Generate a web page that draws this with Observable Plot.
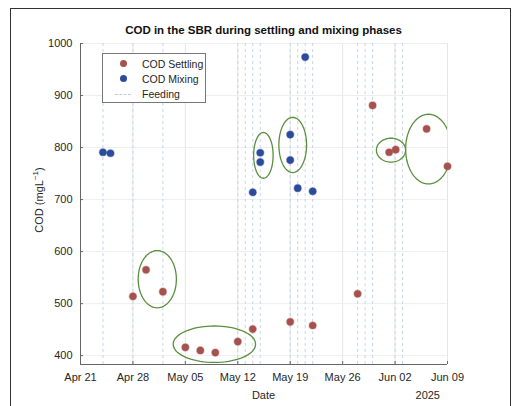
<!DOCTYPE html>
<html>
<head>
<meta charset="utf-8">
<script src="https://cdn.jsdelivr.net/npm/d3@7"></script>
<script src="https://cdn.jsdelivr.net/npm/@observablehq/plot@0.6"></script>
<style>
  html, body { margin: 0; padding: 0; background: #fff; }
  body { width: 514px; height: 406px; position: relative; overflow: hidden; font-family: "Liberation Sans", Arial, sans-serif; }
  #frame { position: absolute; left: 10px; top: 8px; width: 501px; height: 420px; border: 1.5px solid #333; box-sizing: border-box; }
  #chart { position: absolute; left: 0; top: 0; }
  #title { position: absolute; top: 24px; left: 80px; width: 367px; text-align: center; font-weight: bold; font-size: 11.5px; color: #111; }
  #ylabel { position: absolute; left: 38px; top: 200px; transform: translate(-50%, -50%) rotate(-90deg); font-size: 11px; color: #262626; white-space: nowrap; }
  #xlabel { position: absolute; top: 389px; left: 80px; width: 367px; text-align: center; font-size: 11px; color: #262626; }
  #year { position: absolute; top: 389px; left: 400px; width: 40px; text-align: right; font-size: 11px; color: #262626; }
  #legend { position: absolute; left: 102px; top: 53px; width: 104px; height: 50px; background: #fff; border: 1px solid #777; box-sizing: border-box; font-size: 10.5px; color: #262626; }
  .li { position: absolute; left: 0; height: 14px; line-height: 14px; }
  .li .sym { position: absolute; left: 17px; top: 3px; width: 7px; height: 7px; border-radius: 50%; }
  .li .txt { position: absolute; left: 39px; top: 0; white-space: nowrap; }
  .li .dash { position: absolute; left: 12px; top: 7px; width: 16px; border-top: 1px dashed #b9d0e8; }
</style>
</head>
<body>
<div id="frame"></div>
<div id="chart"></div>
<div id="title">COD in the SBR during settling and mixing phases</div>
<div id="ylabel">COD (mgL<sup style="font-size:8px">−1</sup>)</div>
<div id="xlabel">Date</div>
<div id="year">2025</div>
<div id="legend">
  <div class="li" style="top:3px"><span class="sym" style="background:#a5524e"></span><span class="txt">COD Settling</span></div>
  <div class="li" style="top:18px"><span class="sym" style="background:#2b4b9b"></span><span class="txt">COD Mixing</span></div>
  <div class="li" style="top:33px"><span class="dash"></span><span class="txt">Feeding</span></div>
</div>
<script>
// ---- data ----
const settlingDates = ["2025-04-28", "2025-04-29T18:00", "2025-05-02", "2025-05-05", "2025-05-07", "2025-05-09",
  "2025-05-12", "2025-05-14", "2025-05-19", "2025-05-22", "2025-05-28", "2025-05-30",
  "2025-06-01T05:00", "2025-06-02T02:00", "2025-06-06T05:00", "2025-06-09"];
const settlingCOD = [514, 565, 523, 416, 410, 406, 427, 451, 465, 458, 519, 881, 791, 796, 836, 764];

const mixingDates = ["2025-04-24", "2025-04-25", "2025-05-14", "2025-05-15", "2025-05-15", "2025-05-19",
  "2025-05-19", "2025-05-20", "2025-05-21", "2025-05-22"];
const mixingCOD = [791, 789, 714, 790, 772, 825, 776, 722, 974, 716];

const feedingDates = ["2025-04-24", "2025-04-28", "2025-05-02", "2025-05-12", "2025-05-13", "2025-05-14",
  "2025-05-15", "2025-05-19", "2025-05-20", "2025-05-21", "2025-05-22", "2025-05-28", "2025-05-29",
  "2025-05-30", "2025-06-02", "2025-06-03"];

const xTicks = ["2025-04-21", "2025-04-28", "2025-05-05", "2025-05-12", "2025-05-19", "2025-05-26", "2025-06-02", "2025-06-09"];
const yTicks = [400, 500, 600, 700, 800, 900, 1000];

// highlight ellipses: center date, center COD, half-width (days), half-height (COD)
const ellipseCenters = ["2025-05-01T06:00", "2025-05-08T21:00", "2025-05-15T10:00", "2025-05-19T08:00", "2025-06-01T11:00", "2025-06-06T11:00"];
const ellipseCOD = [547, 422, 785, 805, 795, 797];
const ellipseRX = [2.55, 5.5, 1.3, 1.85, 1.95, 3.05];
const ellipseRY = [55, 35, 44, 53, 23, 67];

// ---- build tables ----
const parse = s => new Date(s.length > 10 ? s + "Z" : s + "T00:00Z");
const settling = settlingDates.map((d, i) => ({date: parse(d), cod: settlingCOD[i]}));
const mixing = mixingDates.map((d, i) => ({date: parse(d), cod: mixingCOD[i]}));
const feeding = feedingDates.map(parse);
const DAY = 864e5;
const ellipsePts = [];
ellipseCenters.forEach((c, k) => {
  const c0 = parse(c).getTime();
  for (let j = 0; j <= 72; j++) {
    const t = j / 72 * 2 * Math.PI;
    ellipsePts.push({id: k, date: new Date(c0 + ellipseRX[k] * Math.cos(t) * DAY), cod: ellipseCOD[k] + ellipseRY[k] * Math.sin(t)});
  }
});

const fmt = d3.utcFormat("%b %d");
const chart = Plot.plot({
  width: 514,
  height: 406,
  marginLeft: 80,
  marginRight: 67,
  marginTop: 43,
  marginBottom: 42,
  style: {fontFamily: "Liberation Sans, Arial, sans-serif", fontSize: "11px", color: "#262626", background: "transparent"},
  x: {type: "utc", domain: [parse("2025-04-21"), parse("2025-06-09")], label: null},
  y: {domain: [383, 1000], label: null},
  marks: [
    Plot.gridX(xTicks.map(parse), {stroke: "#e6e6e6", strokeOpacity: 1}),
    Plot.gridY(yTicks, {stroke: "#eeeeee", strokeOpacity: 1}),
    Plot.ruleX(feeding, {stroke: "#c3d6ea", strokeDasharray: "3,3", strokeWidth: 1}),
    Plot.line(ellipsePts, {x: "date", y: "cod", z: "id", stroke: "#5a8f3e", strokeWidth: 1.3, clip: true}),
    Plot.dot(settling, {x: "date", y: "cod", r: 3.6, fill: "#a5524e", stroke: "#a5524e", strokeOpacity: 0.35}),
    Plot.dot(mixing, {x: "date", y: "cod", r: 3.6, fill: "#2b4b9b", stroke: "#2b4b9b", strokeOpacity: 0.35}),
    Plot.ruleY([383], {stroke: "#666", strokeWidth: 1}),
    Plot.ruleX([parse("2025-04-21")], {stroke: "#666", strokeWidth: 1}),
    Plot.axisX(xTicks.map(parse), {tickFormat: fmt, tickSize: -3, tickPadding: 12, stroke: "#666", color: "#262626", label: null}),
    Plot.axisY(yTicks, {tickFormat: d3.format("d"), tickSize: -3, tickPadding: 11, stroke: "#666", color: "#262626", label: null})
  ]
});
document.getElementById("chart").appendChild(chart);
</script>
</body>
</html>
